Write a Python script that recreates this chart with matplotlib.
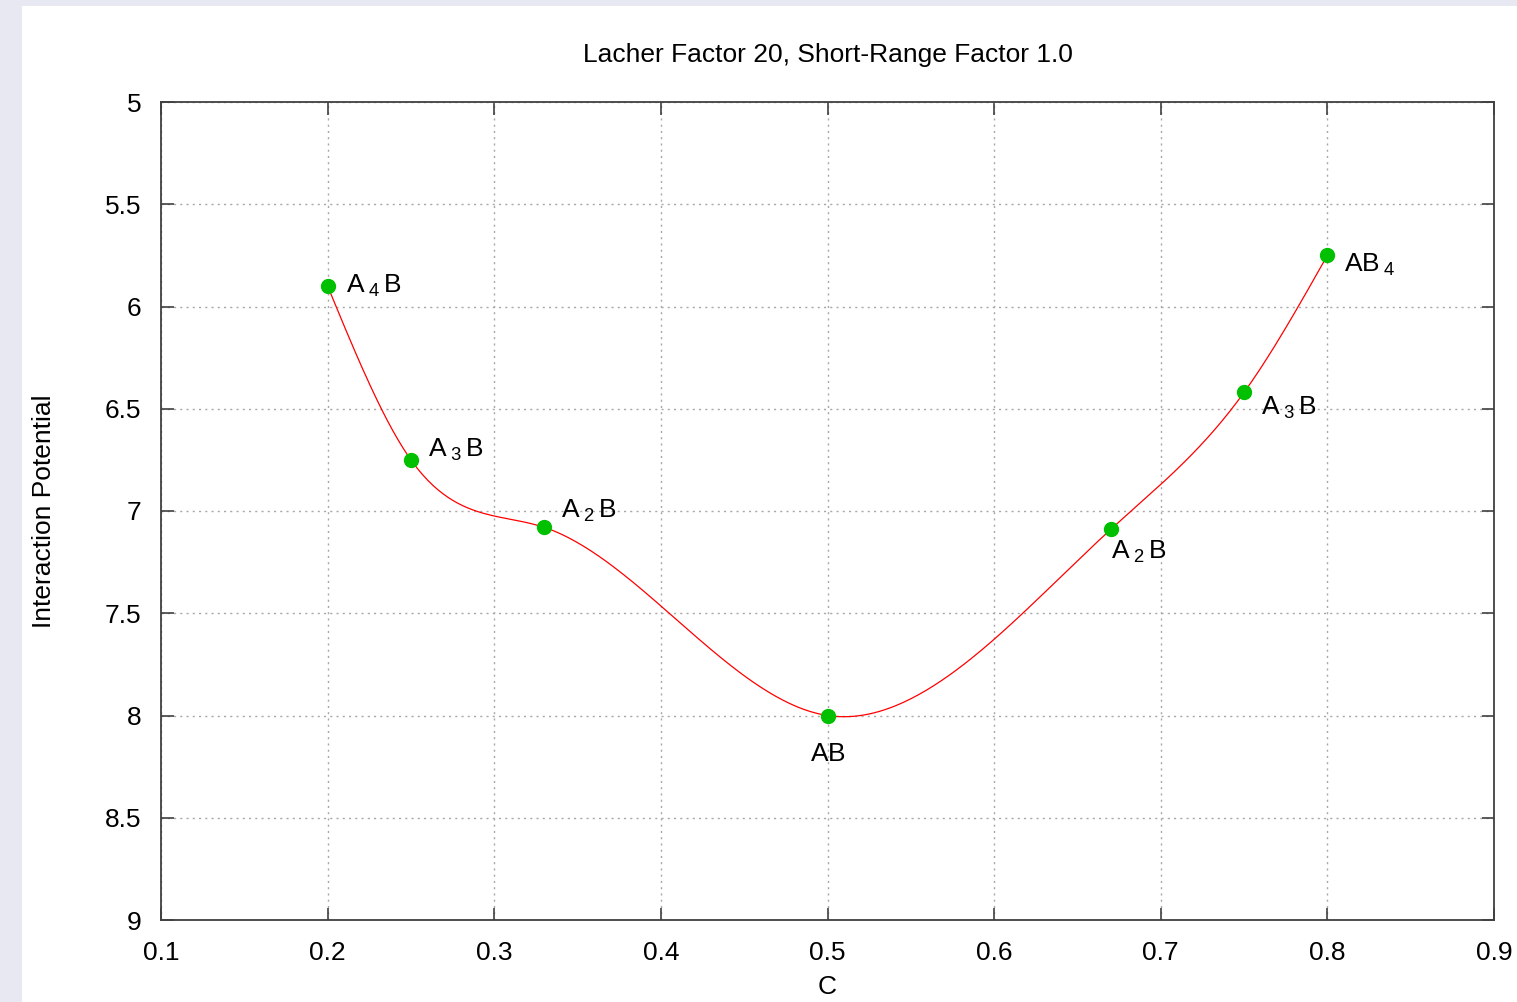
import numpy as np
import matplotlib
matplotlib.use("Agg")
import matplotlib.pyplot as plt
from matplotlib.patches import Rectangle

plt.rcParams['font.family'] = ['Liberation Sans', 'DejaVu Sans']

# composition and interaction potential
conc = [0.2, 0.25, 0.33, 0.5, 0.67, 0.75, 0.8]
potential = [5.90, 6.75, 7.08, 8.00, 7.09, 6.42, 5.75]
names = [r'$\mathregular{A\,_4\,B}$', r'$\mathregular{A\,_3\,B}$', r'$\mathregular{A\,_2\,B}$',
         r'$\mathregular{AB}$', r'$\mathregular{A\,_2\,B}$', r'$\mathregular{A\,_3\,B}$',
         r'$\mathregular{AB\,_4}$']
# label offsets in points (dx, dy) and alignment
offsets = [(13, 0), (12, 7), (12, 12), (0, -28), (0, -16), (12, -11), (12, -7)]
aligns = ['left', 'left', 'left', 'center', 'left', 'left', 'left']

xticks = [0.1, 0.2, 0.3, 0.4, 0.5, 0.6, 0.7, 0.8, 0.9]
yticks = [5, 5.5, 6, 6.5, 7, 7.5, 8, 8.5, 9]


def natural_spline(x, y, n=400):
    # plain natural cubic spline, like gnuplot's "smooth csplines"
    x = np.asarray(x, float)
    y = np.asarray(y, float)
    k = len(x)
    h = np.diff(x)
    A = np.zeros((k, k))
    r = np.zeros(k)
    A[0, 0] = A[-1, -1] = 1.0
    for i in range(1, k - 1):
        A[i, i - 1] = h[i - 1]
        A[i, i] = 2 * (h[i - 1] + h[i])
        A[i, i + 1] = h[i]
        r[i] = 3 * ((y[i + 1] - y[i]) / h[i] - (y[i] - y[i - 1]) / h[i - 1])
    c = np.linalg.solve(A, r)
    b = (y[1:] - y[:-1]) / h - h * (2 * c[:-1] + c[1:]) / 3
    d = (c[1:] - c[:-1]) / (3 * h)
    xs = np.linspace(x[0], x[-1], n)
    idx = np.clip(np.searchsorted(x, xs) - 1, 0, k - 2)
    t = xs - x[idx]
    ys = y[idx] + b[idx] * t + c[idx] * t ** 2 + d[idx] * t ** 3
    return xs, ys


fig = plt.figure(figsize=(15.17, 10.02), dpi=100)
fig.patch.set_facecolor('#e8e8f3')
fig.patches.append(Rectangle((22 / 1517, 0), 1, 1 - 6 / 1002, transform=fig.transFigure,
                             facecolor='white', edgecolor='none', zorder=-10))

ax = fig.add_axes([161 / 1517, 1 - 920 / 1002, (1494 - 161) / 1517, (920 - 102) / 1002])
ax.set_facecolor('white')

xs, ys = natural_spline(conc, potential)
ax.plot(xs, ys, color='red', lw=0.9, zorder=3)
ax.plot(conc, potential, 'o', color='#00c000', ms=10, zorder=4)

for x, y, s, off, ha in zip(conc, potential, names, offsets, aligns):
    ax.annotate(s, (x, y), xytext=off, textcoords='offset points', ha=ha, va='center',
                fontsize=19, color='black')

ax.set_xlim(0.1, 0.9)
ax.set_ylim(9, 5)
ax.set_xticks(xticks)
ax.set_yticks(yticks)
ax.set_xticklabels([f'{v:g}' for v in xticks])
ax.set_yticklabels([f'{v:g}' for v in yticks])
ax.tick_params(direction='in', length=9, width=1.2, color='#404040', labelsize=19,
               top=True, right=True)
ax.tick_params(axis='x', pad=15)
ax.tick_params(axis='y', pad=14)
ax.grid(True, color='#a8a8a8', linestyle=(0, (1.5, 3)), lw=1)
for sp in ax.spines.values():
    sp.set_color('#404040')
    sp.set_linewidth(1.3)

ax.set_title('Lacher Factor 20, Short-Range Factor 1.0', fontsize=19, pad=29)
ax.set_ylabel('Interaction Potential', fontsize=19, labelpad=35)
ax.set_xlabel('C', fontsize=19, labelpad=7)

fig.savefig('out.png', dpi=100, facecolor=fig.get_facecolor())
